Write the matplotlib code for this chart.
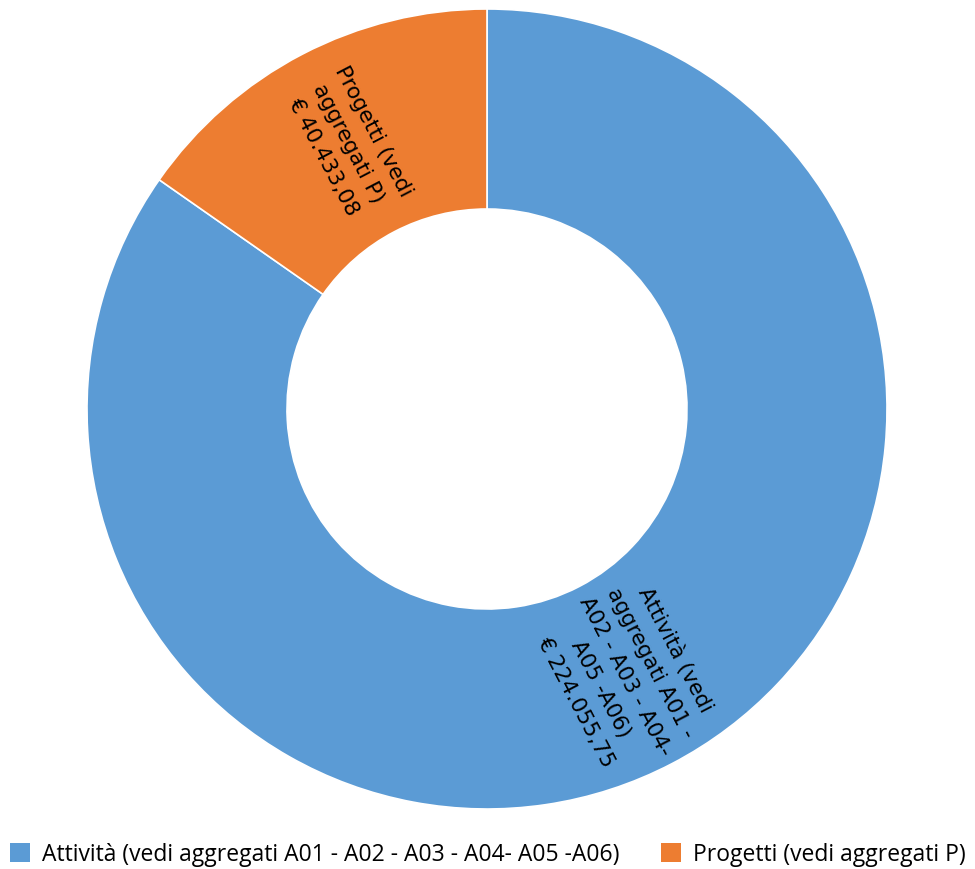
import matplotlib
matplotlib.use("Agg")
import matplotlib.pyplot as plt
import numpy as np
from matplotlib.patches import Patch

categories = ["Attività (vedi aggregati A01 - A02 - A03 - A04- A05 -A06)",
              "Progetti (vedi aggregati P)"]
values = [224055.75, 40433.08]
label_texts = ["Attività (vedi\naggregati A01 -\nA02 - A03 - A04-\nA05 -A06)\n€ 224.055,75",
               "Progetti (vedi\naggregati P)\n€ 40.433,08"]
colors = ["#5B9BD5", "#ED7D31"]

plt.rcParams['font.family'] = ['Open Sans', 'DejaVu Sans']

fig = plt.figure(figsize=(9.75, 8.7), dpi=100)
ax = fig.add_axes([87/975, 1-810/870, 800/975, 800/870])
wedges, _ = ax.pie(values, colors=colors, startangle=90, counterclock=False,
                   radius=1.0, wedgeprops=dict(width=0.5, edgecolor='white', linewidth=1.2))
ax.set_xlim(-1, 1)
ax.set_ylim(-1, 1)
ax.set_aspect('equal')
ax.axis('off')

for w, txt in zip(wedges, label_texts):
    mid = (w.theta1 + w.theta2) / 2.0
    r = 0.75
    x = r * np.cos(np.deg2rad(mid))
    y = r * np.sin(np.deg2rad(mid))
    rot = mid
    if rot > 90:
        rot -= 180
    if rot < -90:
        rot += 180
    ax.text(x, y, txt, ha='center', va='center', rotation=rot, rotation_mode='anchor',
            fontsize=15.5, family=['DejaVu Sans'], linespacing=1.5)

handles = [Patch(facecolor=c, edgecolor='none') for c in colors]
fig.legend(handles, categories, loc='center', bbox_to_anchor=(0.5, 1-855/870), ncol=2,
           frameon=False, fontsize=16.5, handlelength=0.9, handleheight=0.9,
           handletextpad=0.5, columnspacing=1.8)

fig.savefig("out.png", dpi=100, facecolor='white')
